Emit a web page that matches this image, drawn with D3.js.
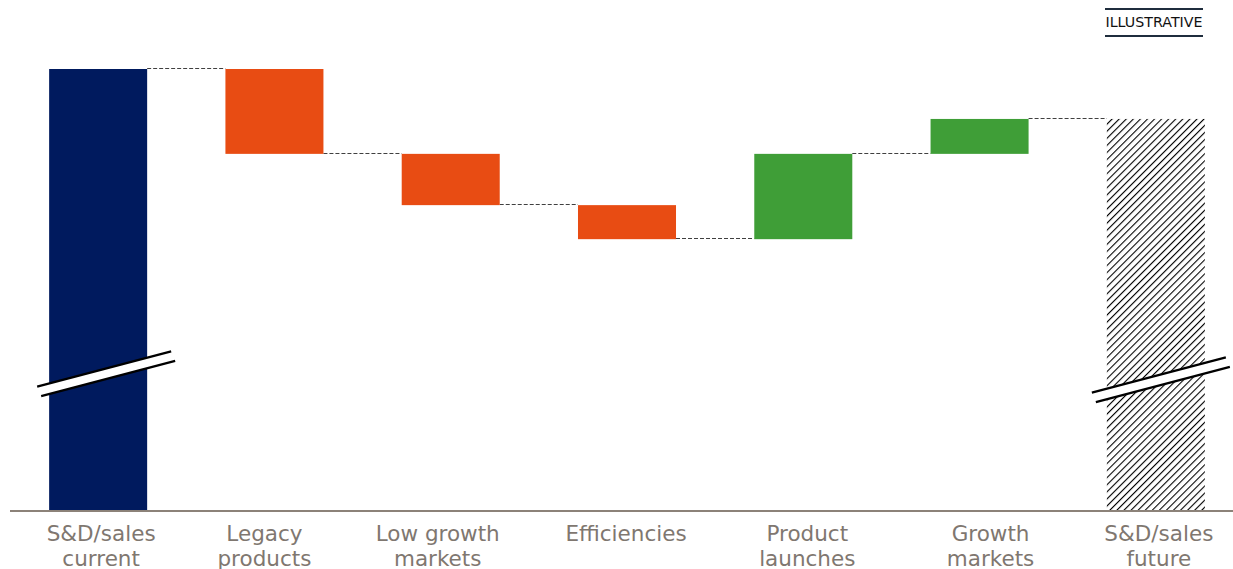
<!DOCTYPE html>
<html><head><meta charset="utf-8">
<script src="https://cdn.jsdelivr.net/npm/d3@7"></script>
<style>html,body{margin:0;padding:0;background:#fff;}svg{display:block;}</style>
</head><body>
<svg id="chart" width="1233" height="569"></svg>
<script>
const categories = ["S&D/sales current","Legacy products","Low growth markets","Efficiencies","Product launches","Growth markets","S&D/sales future"];
const labelLines = [["S&D/sales","current"],["Legacy","products"],["Low growth","markets"],["Efficiencies"],["Product","launches"],["Growth","markets"],["S&D/sales","future"]];
const startValue = 100;
const deltas = [-19.2, -11.6, -7.7, 19.3, 7.9];
const types = ["total","neg","neg","neg","pos","pos","future"];
const colors = {total:"#001a5e", neg:"#e84c13", pos:"#3f9e37"};

const svg = d3.select("#chart");
const baseY = 511;

const bars = [];
let run = startValue;
bars.push({cat:categories[0], y0:0, y1:startValue, type:types[0]});
deltas.forEach((d,i)=>{
  const a = run, b = run + d;
  bars.push({cat:categories[i+1], y0:Math.min(a,b), y1:Math.max(a,b), type:types[i+1]});
  run = b;
});
bars.push({cat:categories[6], y0:0, y1:run, type:types[6]});

const x = d3.scaleBand().domain(categories).range([10, 1244]).paddingInner(0.444).paddingOuter(0.222);
const y = d3.scaleLinear().domain([0,100]).range([baseY, 69]);

const defs = svg.append("defs");
const pat = defs.append("pattern").attr("id","hatch").attr("patternUnits","userSpaceOnUse")
  .attr("width",5).attr("height",5).attr("patternTransform","rotate(45)");
pat.append("rect").attr("width",5).attr("height",5).attr("fill","#fff");
pat.append("line").attr("x1",0).attr("y1",0).attr("x2",0).attr("y2",5).attr("stroke","#000").attr("stroke-width",2.2);

const levels = [startValue];
let r = startValue; deltas.forEach(d=>{r+=d; levels.push(r);});
for (let i=0;i<categories.length-1;i++){
  const lv = levels[i];
  svg.append("line")
    .attr("x1", x(categories[i])+x.bandwidth()).attr("x2", x(categories[i+1]))
    .attr("y1", Math.round(y(lv))-0.5).attr("y2", Math.round(y(lv))-0.5)
    .attr("stroke","#404040").attr("stroke-width",1).attr("stroke-dasharray","4,2");
}

svg.selectAll("rect.bar").data(bars).enter().append("rect").attr("class","bar")
  .attr("x", d=>x(d.cat)).attr("width", x.bandwidth())
  .attr("y", d=>y(d.y1)).attr("height", d=>y(d.y0)-y(d.y1))
  .attr("fill", d=> d.type==="future" ? "url(#hatch)" : colors[d.type]);

function breakMark(cx, cy){
  const dx = 67, slope = 35/133, gap = 9.5;
  const g = svg.append("g");
  const p = [[cx-dx, cy+dx*slope],[cx+dx, cy-dx*slope],[cx+dx+4, cy-dx*slope+gap],[cx-dx+4, cy+dx*slope+gap]];
  g.append("polygon").attr("points", p.map(q=>q.join(",")).join(" ")).attr("fill","#fff");
  g.append("line").attr("x1",p[0][0]).attr("y1",p[0][1]).attr("x2",p[1][0]).attr("y2",p[1][1]).attr("stroke","#000").attr("stroke-width",2.2);
  g.append("line").attr("x1",p[3][0]).attr("y1",p[3][1]).attr("x2",p[2][0]).attr("y2",p[2][1]).attr("stroke","#000").attr("stroke-width",2.2);
}
breakMark(x(categories[0])+x.bandwidth()/2+6, 369);
breakMark(x(categories[6])+x.bandwidth()/2+3, 375);

svg.append("line").attr("x1",10).attr("x2",1233).attr("y1",511).attr("y2",511)
  .attr("stroke","#8c8279").attr("stroke-width",2);

const nudge = [3, -10, -13, -1, 4, 11, 3];
labelLines.forEach((lines,i)=>{
  const t = svg.append("text").attr("text-anchor","middle")
    .attr("font-family","'DejaVu Sans', Verdana, sans-serif").attr("font-size",21.5)
    .attr("fill","#7f7770");
  lines.forEach((ln,j)=>{
    t.append("tspan").attr("x", x(categories[i])+x.bandwidth()/2 + nudge[i]).attr("y", 541 + j*24.5).text(ln);
  });
});

svg.append("line").attr("x1",1105).attr("x2",1203).attr("y1",9).attr("y2",9).attr("stroke","#1f2d3d").attr("stroke-width",2);
svg.append("line").attr("x1",1105).attr("x2",1203).attr("y1",36).attr("y2",36).attr("stroke","#1f2d3d").attr("stroke-width",2);
svg.append("text").attr("x",1154).attr("y",27).attr("text-anchor","middle")
  .attr("font-family","'DejaVu Sans', Verdana, sans-serif").attr("font-size",13.5).attr("fill","#111")
  .attr("textLength",97).attr("lengthAdjust","spacingAndGlyphs").text("ILLUSTRATIVE");
</script>
</body></html>
